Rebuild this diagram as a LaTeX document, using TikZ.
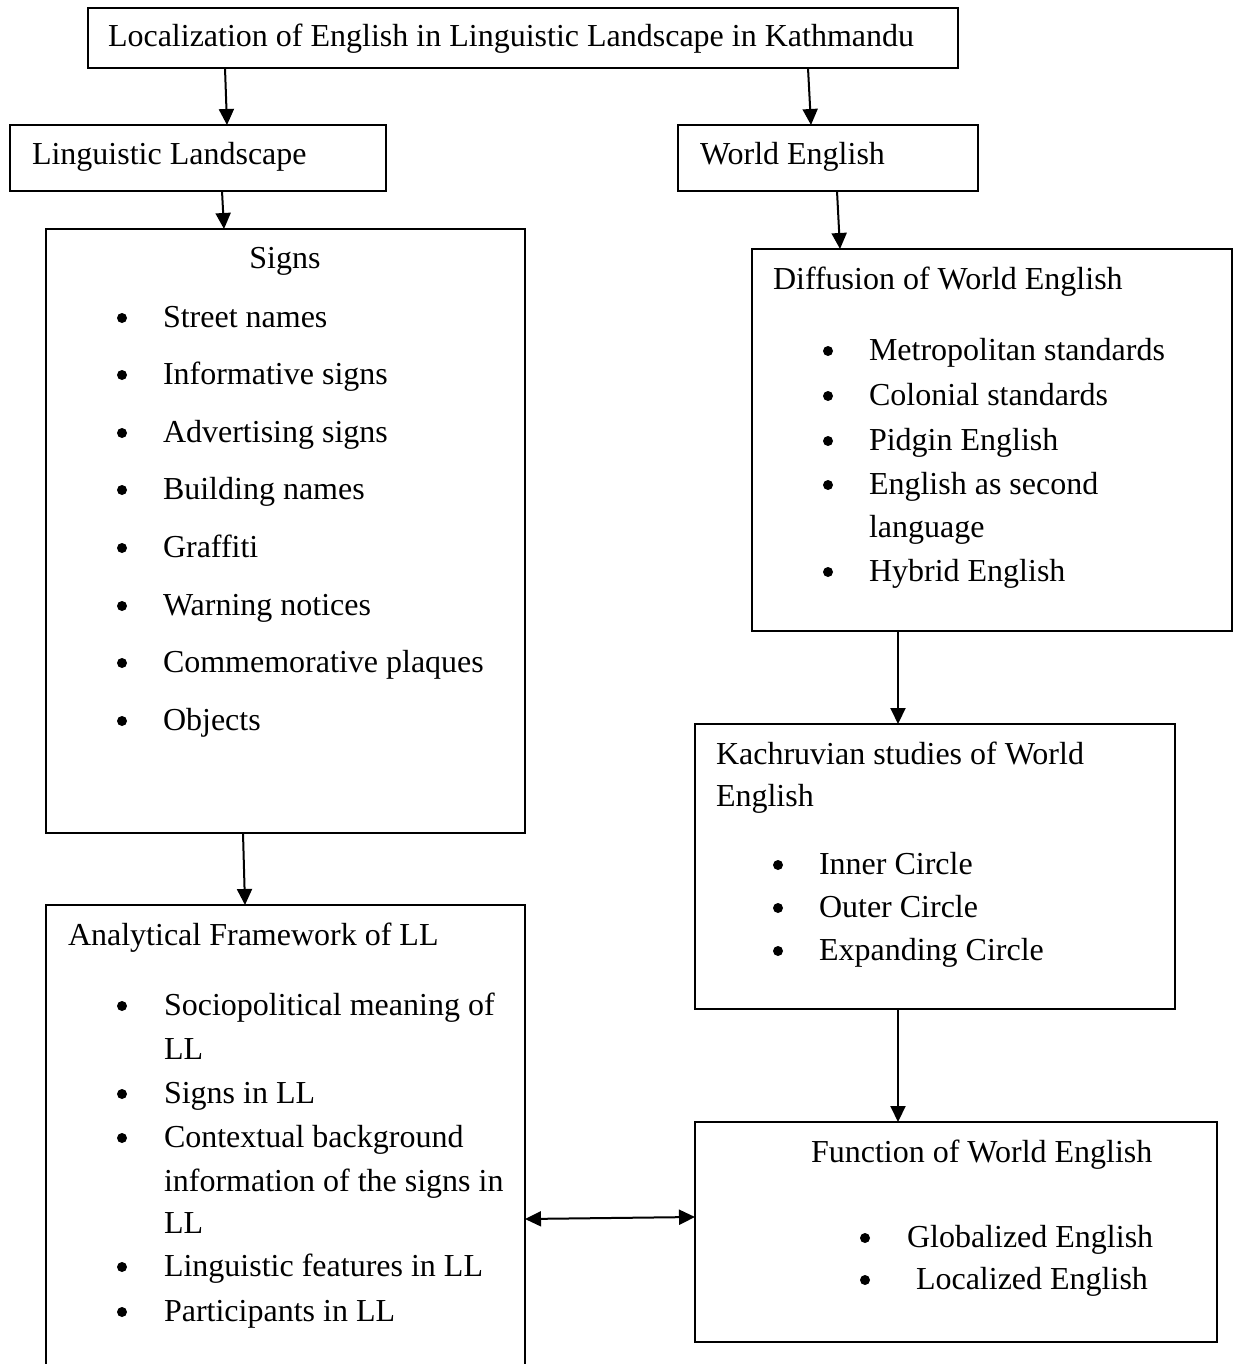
\documentclass[tikz,border=0pt]{standalone}
\usepackage{fontspec}
\setmainfont{Liberation Serif}
\usetikzlibrary{arrows.meta}
\begin{document}
\begin{tikzpicture}[x=1pt,y=-1pt,
  box/.style={draw, line width=1.8pt, inner sep=0pt, outer sep=0pt, anchor=north west},
  txt/.style={inner sep=0pt, outer sep=0pt, anchor=base west, font=\fontsize{32}{38}\selectfont},
  bul/.style={fill, circle, inner sep=0pt, minimum size=10pt},
  arr/.style={line width=2pt, -{Triangle[length=16pt,width=15pt]}},
  darr/.style={line width=2pt, {Triangle[length=16pt,width=15pt]}-{Triangle[length=16pt,width=15pt]}}]
\useasboundingbox (0,0) rectangle (1234,1364);
\clip (0,0) rectangle (1234,1364);
\fill[white] (0,0) rectangle (1234,1364);
% boxes
\node[box, minimum width=870pt, minimum height=60pt] (top) at (88,8) {};
\node[box, minimum width=376pt, minimum height=66pt] (ll) at (10,125) {};
\node[box, minimum width=300pt, minimum height=66pt] (we) at (678,125) {};
\node[box, minimum width=479pt, minimum height=604pt] (signs) at (46,229) {};
\node[box, minimum width=480pt, minimum height=382pt] (diff) at (752,249) {};
\node[box, minimum width=480pt, minimum height=285pt] (kach) at (695,724) {};
\node[box, minimum width=479pt, minimum height=500pt] (anal) at (46,905) {};
\node[box, minimum width=522pt, minimum height=220pt] (func) at (695,1122) {};
% texts
\node[txt] (ttop) at (108,47) {Localization of English in Linguistic Landscape in Kathmandu};
\node[txt] (tll) at (32,165) {Linguistic Landscape};
\node[txt] (twe) at (700,165) {World English};
% signs
\node[txt, anchor=base] (tsigns) at (285,269) {Signs};
\foreach \y/\t [count=\i] in {327/Street names, 384/Informative signs, 442/Advertising signs, 499/Building names, 557/Graffiti, 615/Warning notices, 672/Commemorative plaques, 730/Objects}{
  \node[bul] (sb\i) at (122,\y-9) {};
  \node[txt] (st\i) at (163,\y) {\t};
}
% diffusion
\node[txt] (tdiff) at (773,289) {Diffusion of World English};
\foreach \y/\t [count=\i] in {360/Metropolitan standards, 405/Colonial standards, 450/Pidgin English, 494/English as second, 581/Hybrid English}{
  \node[bul] (db\i) at (828,\y-9) {};
  \node[txt] (dt\i) at (869,\y) {\t};
}
\node[txt] (dt6) at (869,537) {language};
% kachruvian
\node[txt] (tkach1) at (716,764) {Kachruvian studies of World};
\node[txt] (tkach2) at (716,806) {English};
\foreach \y/\t [count=\i] in {874/Inner Circle, 917/Outer Circle, 960/Expanding Circle}{
  \node[bul] (kb\i) at (778,\y-9) {};
  \node[txt] (kt\i) at (819,\y) {\t};
}
% analytical
\node[txt] (tanal) at (68,945) {Analytical Framework of LL};
\foreach \y/\t [count=\i] in {1015/Sociopolitical meaning of, 1103/Signs in LL, 1147/Contextual background, 1276/Linguistic features in LL, 1321/Participants in LL}{
  \node[bul] (ab\i) at (122,\y-9) {};
  \node[txt] (at\i) at (164,\y) {\t};
}
\node[txt] (at6) at (164,1059) {LL};
\node[txt] (at7) at (164,1191) {information of the signs in};
\node[txt] (at8) at (164,1233) {LL};
% function
\node[txt] (tfunc) at (811,1162) {Function of World English};
\node[bul] (fb1) at (865,1238) {};
\node[txt] (ft1) at (907,1247) {Globalized English};
\node[bul] (fb2) at (865,1280) {};
\node[txt] (ft2) at (916,1289) {Localized English};
% arrows
\draw[arr] ([xshift=137pt]top.south west) -- ([xshift=217pt]ll.north west);
\draw[arr] ([xshift=720pt]top.south west) -- ([xshift=133pt]we.north west);
\draw[arr] ([xshift=212pt]ll.south west) -- ([xshift=178pt]signs.north west);
\draw[arr] ([xshift=159pt]we.south west) -- ([xshift=88pt]diff.north west);
\draw[arr] ([xshift=146pt]diff.south west) -- ([xshift=203pt]kach.north west);
\draw[arr] ([xshift=197pt]signs.south west) -- ([xshift=199pt]anal.north west);
\draw[arr] ([xshift=203pt]kach.south west) -- ([xshift=203pt]func.north west);
\draw[darr] ([yshift=-314pt]anal.north east) -- ([yshift=-95pt]func.north west);
\end{tikzpicture}
\end{document}
